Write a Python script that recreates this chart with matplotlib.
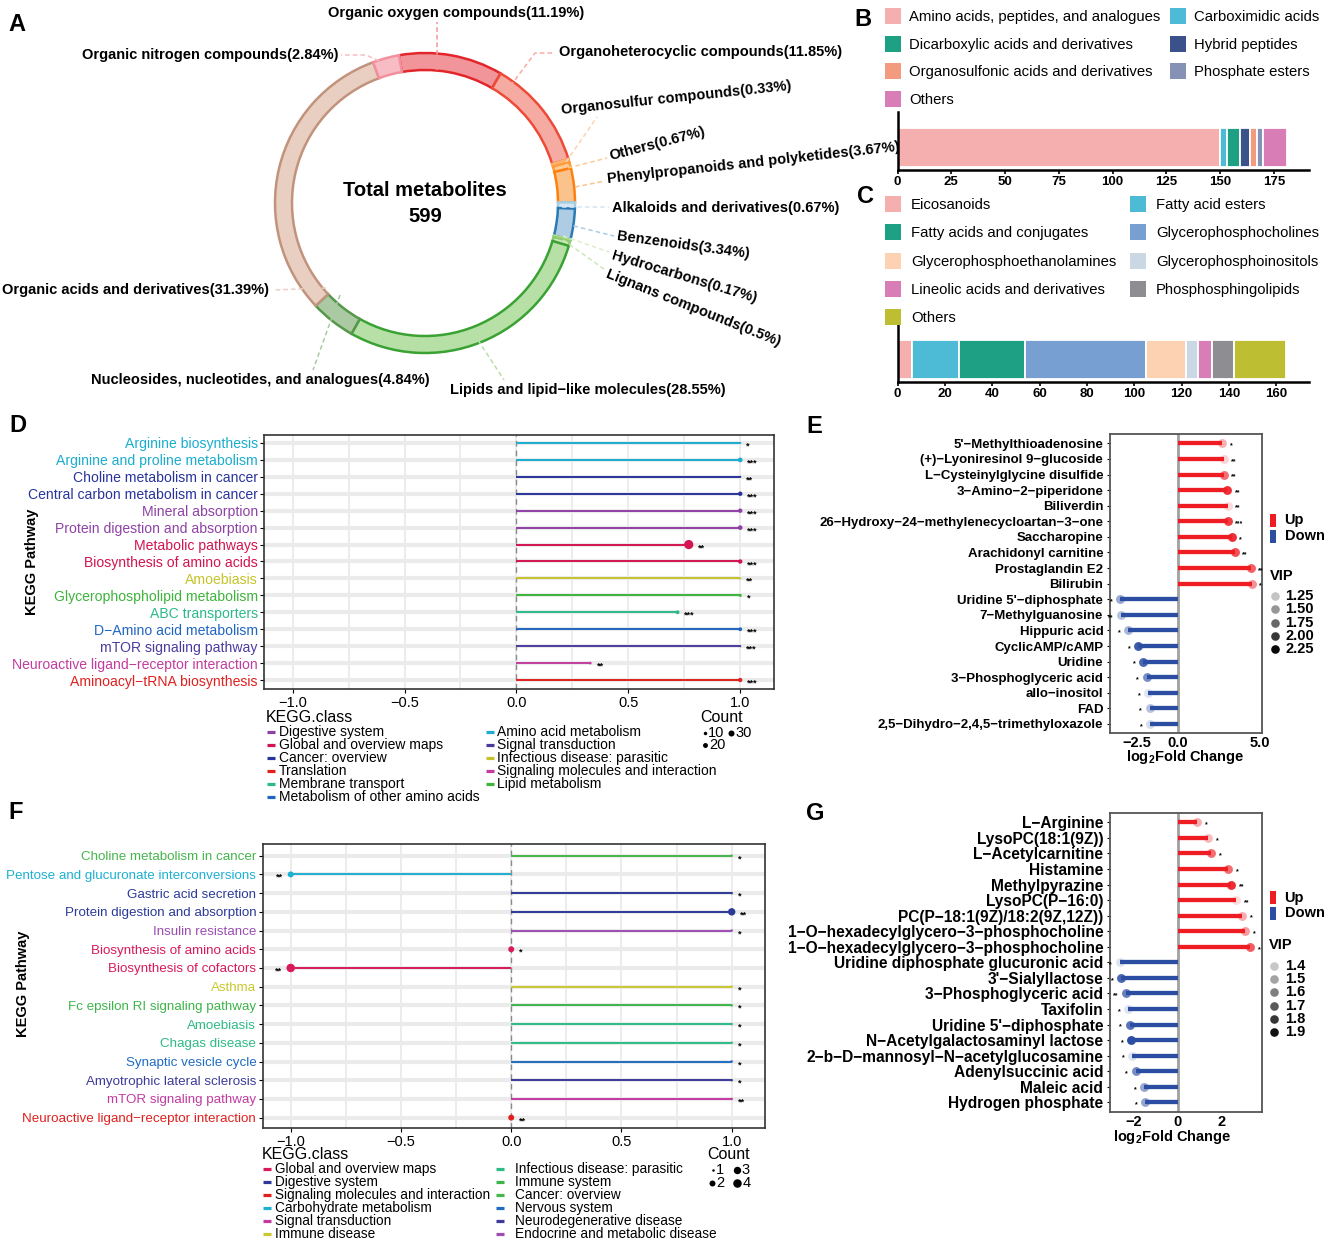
import matplotlib
matplotlib.use('Agg')
import matplotlib.pyplot as plt
from matplotlib.patches import Rectangle
import numpy as np

W, H = 1325, 1243
plt.rcParams['font.family'] = ['Liberation Sans', 'DejaVu Sans']
plt.rcParams['mathtext.fontset'] = 'custom'
plt.rcParams['mathtext.rm'] = 'Liberation Sans:bold'
plt.rcParams['mathtext.bf'] = 'Liberation Sans:bold'
plt.rcParams['axes.unicode_minus'] = True

# ---------------- data ----------------
# Panel A: superclass composition of 599 metabolites (clockwise from top)
A_names = ["Organic oxygen compounds", "Organoheterocyclic compounds", "Organosulfur compounds",
           "Others", "Phenylpropanoids and polyketides", "Alkaloids and derivatives",
           "Benzenoids", "Hydrocarbons", "Lignans compounds", "Lipids and lipid\u2212like molecules",
           "Nucleosides, nucleotides, and analogues", "Organic acids and derivatives",
           "Organic nitrogen compounds"]
A_pct = [11.19, 11.85, 0.33, 0.67, 3.67, 0.67, 3.34, 0.17, 0.5, 28.55, 4.84, 31.39, 2.84]
A_pct_txt = ["11.19", "11.85", "0.33", "0.67", "3.67", "0.67", "3.34", "0.17", "0.5", "28.55",
             "4.84", "31.39", "2.84"]
A_fill = ["#F2959A", "#F6ABA2", "#FCD3AE", "#FDCB93", "#FBC38C", "#D4E6F2", "#AECCE4",
          "#DCEFCC", "#CBE8B8", "#B6E0A6", "#ABC9A2", "#E8CFC2", "#F8BCC4"]
A_edge = ["#E3262B", "#EE4A38", "#FDAE6B", "#FF9C3A", "#FF7F0E", "#A6CEE3", "#2A7AB5",
          "#B2DF8A", "#8FCB74", "#3AA233", "#55984A", "#C2937C", "#F2909C"]
A_total = 599

# Panel B: Organic acids and derivatives subclasses
B_cats = ["Amino acids, peptides, and analogues", "Carboximidic acids",
          "Dicarboxylic acids and derivatives", "Hybrid peptides",
          "Organosulfonic acids and derivatives", "Phosphate esters", "Others"]
B_vals = [150, 3, 6, 5, 3, 3, 11]
B_cols = ["#F5AFAE", "#4DBBD6", "#1DA084", "#3B5189", "#F39B7F", "#8591B5", "#D97DB6"]
B_ticks = [0, 25, 50, 75, 100, 125, 150, 175]

# Panel C: Lipids and lipid-like molecules subclasses
C_cats = ["Eicosanoids", "Fatty acid esters", "Fatty acids and conjugates",
          "Glycerophosphocholines", "Glycerophosphoethanolamines", "Glycerophosphoinositols",
          "Lineolic acids and derivatives", "Phosphosphingolipids", "Others"]
C_vals = [6, 20, 28, 51, 17, 5, 6, 9, 22]
C_cols = ["#F5AFAE", "#4DBBD6", "#1DA084", "#789FD1", "#FDD2B3", "#C9D8E4", "#D97DB6",
          "#8E8E92", "#BEBE33"]
C_ticks = [0, 20, 40, 60, 80, 100, 120, 140, 160]

# Panel D: KEGG enrichment (lollipop)
D_paths = ["Arginine biosynthesis", "Arginine and proline metabolism", "Choline metabolism in cancer",
           "Central carbon metabolism in cancer", "Mineral absorption",
           "Protein digestion and absorption", "Metabolic pathways", "Biosynthesis of amino acids",
           "Amoebiasis", "Glycerophospholipid metabolism", "ABC transporters",
           "D\u2212Amino acid metabolism", "mTOR signaling pathway",
           "Neuroactive ligand\u2212receptor interaction", "Aminoacyl\u2212tRNA biosynthesis"]
D_class = ["Amino acid metabolism", "Amino acid metabolism", "Cancer: overview", "Cancer: overview",
           "Digestive system", "Digestive system", "Global and overview maps",
           "Global and overview maps", "Infectious disease: parasitic", "Lipid metabolism",
           "Membrane transport", "Metabolism of other amino acids", "Signal transduction",
           "Signaling molecules and interaction", "Translation"]
D_x = [1.0, 1.0, 1.0, 1.0, 1.0, 1.0, 0.77, 1.0, 1.0, 1.0, 0.72, 1.0, 1.0, 0.33, 1.0]
D_count = [4, 18, 4, 16, 16, 18, 70, 16, 4, 8, 12, 12, 4, 6, 15]
D_sig = ["*", "***", "**", "***", "***", "***", "**", "***", "**", "*", "***", "***", "***", "**", "***"]
D_legend = ["Digestive system", "Global and overview maps", "Cancer: overview", "Translation",
            "Membrane transport", "Metabolism of other amino acids", "Amino acid metabolism",
            "Signal transduction", "Infectious disease: parasitic",
            "Signaling molecules and interaction", "Lipid metabolism"]
D_colors = {"Digestive system": "#8F42A6", "Global and overview maps": "#D3144F",
            "Cancer: overview": "#28349B", "Translation": "#E0211F",
            "Membrane transport": "#2CB98A", "Metabolism of other amino acids": "#2066C1",
            "Amino acid metabolism": "#1AADCF", "Signal transduction": "#4A3C9F",
            "Infectious disease: parasitic": "#C6C32A",
            "Signaling molecules and interaction": "#C23D9F", "Lipid metabolism": "#3DB43A"}
D_count_breaks = [10, 20, 30]

# Panel E: differential metabolites (lollipop)
E_names = ["5'\u2212Methylthioadenosine", "(+)\u2212Lyoniresinol 9\u2212glucoside",
           "L\u2212Cysteinylglycine disulfide", "3\u2212Amino\u22122\u2212piperidone", "Biliverdin",
           "26\u2212Hydroxy\u221224\u2212methylenecycloartan\u22123\u2212one", "Saccharopine",
           "Arachidonyl carnitine", "Prostaglandin E2", "Bilirubin", "Uridine 5'\u2212diphosphate",
           "7\u2212Methylguanosine", "Hippuric acid", "CyclicAMP/cAMP", "Uridine",
           "3\u2212Phosphoglyceric acid", "allo\u2212inositol", "FAD",
           "2,5\u2212Dihydro\u22122,4,5\u2212trimethyloxazole"]
E_lfc = [2.71, 2.80, 2.80, 3.00, 3.05, 3.05, 3.30, 3.47, 4.45, 4.52,
         -3.53, -3.51, -3.04, -2.44, -2.15, -1.93, -1.83, -1.74, -1.70]
E_vip = [1.4, 1.2, 1.8, 2.2, 1.15, 2.1, 2.2, 2.0, 1.9, 1.6,
         1.6, 1.4, 1.5, 2.2, 2.1, 1.8, 1.15, 1.4, 1.2]
E_sig = ["*", "**", "**", "**", "**", "***", "*", "**", "**", "*",
         "*", "**", "*", "*", "*", "*", "*", "*", "*"]
E_ticks = [-2.5, 0.0, 5.0]
E_vip_breaks = [1.25, 1.50, 1.75, 2.00, 2.25]

# Panel F: KEGG enrichment (lollipop)
F_paths = ["Choline metabolism in cancer", "Pentose and glucuronate interconversions",
           "Gastric acid secretion", "Protein digestion and absorption", "Insulin resistance",
           "Biosynthesis of amino acids", "Biosynthesis of cofactors", "Asthma",
           "Fc epsilon RI signaling pathway", "Amoebiasis", "Chagas disease",
           "Synaptic vesicle cycle", "Amyotrophic lateral sclerosis", "mTOR signaling pathway",
           "Neuroactive ligand\u2212receptor interaction"]
F_class = ["Cancer: overview", "Carbohydrate metabolism", "Digestive system", "Digestive system",
           "Endocrine and metabolic disease", "Global and overview maps",
           "Global and overview maps", "Immune disease", "Immune system",
           "Infectious disease: parasitic", "Infectious disease: parasitic", "Nervous system",
           "Neurodegenerative disease", "Signal transduction", "Signaling molecules and interaction"]
F_x = [1.0, -1.0, 1.0, 1.0, 1.0, 0.0, -1.0, 1.0, 1.0, 1.0, 1.0, 1.0, 1.0, 1.0, 0.0]
F_count = [1, 2, 1, 3, 1, 2, 4, 1, 1, 1, 1, 1, 1, 1, 2]
F_sig = ["*", "**", "*", "**", "*", "*", "**", "*", "*", "*", "*", "*", "*", "**", "**"]
F_legend = ["Global and overview maps", "Digestive system", "Signaling molecules and interaction",
            "Carbohydrate metabolism", "Signal transduction", "Immune disease",
            "Infectious disease: parasitic", "Immune system", "Cancer: overview",
            "Nervous system", "Neurodegenerative disease", "Endocrine and metabolic disease"]
F_colors = {"Global and overview maps": "#D81A5A", "Digestive system": "#2B3A98",
            "Signaling molecules and interaction": "#E0201F", "Carbohydrate metabolism": "#1CB0D2",
            "Signal transduction": "#C23BA1", "Immune disease": "#C9C82F",
            "Infectious disease: parasitic": "#2DBB86", "Immune system": "#3DB54A",
            "Cancer: overview": "#45B54C", "Nervous system": "#1F6CC0",
            "Neurodegenerative disease": "#3D3A99", "Endocrine and metabolic disease": "#9B4DB1"}
F_count_breaks = [1, 2, 3, 4]

# Panel G: differential metabolites (lollipop)
G_names = ["L\u2212Arginine", "LysoPC(18:1(9Z))", "L\u2212Acetylcarnitine", "Histamine",
           "Methylpyrazine", "LysoPC(P\u221216:0)", "PC(P\u221218:1(9Z)/18:2(9Z,12Z))",
           "1\u2212O\u2212hexadecylglycero\u22123\u2212phosphocholine",
           "1\u2212O\u2212hexadecylglycero\u22123\u2212phosphocholine",
           "Uridine diphosphate glucuronic acid", "3'\u2212Sialyllactose",
           "3\u2212Phosphoglyceric acid", "Taxifolin", "Uridine 5'\u2212diphosphate",
           "N\u2212Acetylgalactosaminyl lactose", "2\u2212b\u2212D\u2212mannosyl\u2212N\u2212acetylglucosamine",
           "Adenylsuccinic acid", "Maleic acid", "Hydrogen phosphate"]
G_lfc = [0.86, 1.37, 1.50, 2.30, 2.41, 2.64, 2.92, 3.06, 3.28,
         -2.66, -2.60, -2.37, -2.26, -2.20, -2.14, -2.09, -1.92, -1.53, -1.48]
G_vip = [1.5, 1.45, 1.7, 1.7, 1.9, 1.35, 1.5, 1.55, 1.75,
         1.35, 1.85, 1.75, 1.35, 1.8, 1.95, 1.35, 1.7, 1.6, 1.6]
G_sig = ["*", "*", "*", "*", "**", "**", "*", "*", "*",
         "*", "*", "**", "*", "*", "*", "*", "*", "*", "*"]
G_ticks = [-2, 0, 2]
G_vip_breaks = [1.4, 1.5, 1.6, 1.7, 1.8, 1.9]

UP_COL, DOWN_COL = "#EE1D24", "#2C4EA2"

# ---------------- figure ----------------
fig = plt.figure(figsize=(W / 100, H / 100), dpi=100)


def add_ax(l, t, r, b, **kw):
    return fig.add_axes([l / W, 1 - b / H, (r - l) / W, (b - t) / H], **kw)


ov = fig.add_axes([0, 0, 1, 1], zorder=20)
ov.set_xlim(0, W)
ov.set_ylim(H, 0)
ov.axis('off')
ov.patch.set_alpha(0)

# panel letters
for lab, (x, y) in zip("ABCDEFG", [(17, 24), (863, 19), (865, 196), (18, 425), (814, 426),
                                   (16, 812), (815, 813)]):
    ov.text(x, y, lab, fontsize=17, fontweight='bold', ha='center', va='center')

# ---------------- Panel A ----------------
axA = add_ax(0, 0, 870, 410)
wedges, _ = axA.pie(A_pct, colors=A_fill, startangle=-100, counterclock=True, radius=150,
                    center=(425, 203), wedgeprops=dict(width=17, linewidth=1.8))
for w, e in zip(wedges, A_edge):
    w.set_edgecolor(e)
axA.set_xlim(0, 870)
axA.set_ylim(410, 0)
axA.set_aspect('auto')
axA.axis('off')
axA.text(425, 190, "Total metabolites", fontsize=14.5, fontweight='bold', ha='center', va='center')
axA.text(425, 216, str(A_total), fontsize=14.5, fontweight='bold', ha='center', va='center')

# label layout: (x, y, ha, rotation), leader path
A_layout = [
    ((456, 13, 'center', 0), [(437, 70), (437, 22)]),
    ((559, 52, 'left', 0), [(506, 92), (535, 53), (555, 53)]),
    ((561, 110, 'left', 6), [(566, 162), (597, 117)]),
    ((610, 156, 'left', 14.6), [(568, 168), (607, 158)]),
    ((607, 179, 'left', 6.3), [(560, 190), (605, 181)]),
    ((612, 208, 'left', 0), [(562, 207), (609, 207)]),
    ((617, 236, 'left', -7.8), [(566, 224), (614, 236)]),
    ((612, 255, 'left', -16.8), [(563, 236), (609, 252)]),
    ((607, 273, 'left', -21.7), [(563, 240), (604, 269)]),
    ((588, 390, 'center', 0), [(478, 340), (504, 380)]),
    ((260, 380, 'center', 0), [(340, 295), (313, 370)]),
    ((269, 290, 'right', 0), [(326, 288), (273, 290)]),
    ((338, 55, 'right', 0), [(393, 67), (366, 55), (341, 55)]),
]
for name, pct, fc, (tl, path) in zip(A_names, A_pct_txt, A_fill, A_layout):
    x, y, ha, rot = tl
    axA.text(x, y, f"{name}({pct}%)", fontsize=10.5, fontweight='bold', ha=ha, va='center',
             rotation=rot, rotation_mode='anchor')
    px, py = zip(*path)
    axA.plot(px, py, color=fc, lw=1.1, ls=(0, (3, 2)))

# ---------------- Panel B / C ----------------


def stacked_bar(l, t, r, b, vals, cols, ticks, xmax, bar_center_frac, bar_h_frac):
    ax = add_ax(l, t, r, b)
    left = np.concatenate([[0], np.cumsum(vals)[:-1]])
    ax.barh(0, vals, left=left, height=bar_h_frac, color=cols, edgecolor='white', linewidth=1.3)
    ax.set_ylim(-bar_center_frac, 1 - bar_center_frac)
    ax.set_xlim(0, xmax)
    ax.set_xticks(ticks)
    ax.set_yticks([])
    for s in ['top', 'right']:
        ax.spines[s].set_visible(False)
    for s in ['left', 'bottom']:
        ax.spines[s].set_linewidth(1.8)
        ax.spines[s].set_color('black')
    ax.tick_params(axis='x', length=3, width=1.2, pad=1.5, labelsize=9.5)
    for tl in ax.get_xticklabels():
        tl.set_fontweight('bold')
    ax.patch.set_alpha(0)
    return ax


axB = stacked_bar(897.6, 112, 1309, 170, B_vals, B_cols, B_ticks, 191.3, 0.388, 0.672)
axC = stacked_bar(897.6, 325, 1309, 382, C_vals, C_cols, C_ticks, 173.8, 0.395, 0.684)


def square_legend(cats, cols, col_x, text_dx, y0, dy, nrows):
    for i, (c, col) in enumerate(zip(cats, cols)):
        ci, ri = divmod(i, nrows)
        x = col_x[ci]
        y = y0 + ri * dy
        ov.add_patch(Rectangle((x, y - 8), 16, 16, facecolor=col, edgecolor='none'))
        ov.text(x + text_dx, y + 1, c, fontsize=10.7, ha='left', va='center')


# B legend: rows fill left-to-right (2 columns)
B_order = [0, 2, 4, 6, 1, 3, 5]
square_legend([B_cats[i] for i in B_order], [B_cols[i] for i in B_order], [885, 1170], 24,
              16, 27.5, 4)
C_order = [0, 2, 4, 6, 8, 1, 3, 5, 7]
square_legend([C_cats[i] for i in C_order], [C_cols[i] for i in C_order], [885, 1130], 26,
              204, 28.3, 5)

# ---------------- Panel D / F ----------------


def kegg_panel(box, ylim, paths, classes, xs, counts, sigs, colors, size_fn, title_xy, lab_fs):
    l, t, r, b = box
    ax = add_ax(l, t, r, b)
    n = len(paths)
    ys = np.arange(n, 0, -1)
    ax.set_xlim(-1.128, 1.151)
    ax.set_ylim(*ylim)
    for gx in np.arange(-1.0, 1.01, 0.25):
        ax.axvline(gx, color='#EBEBEB', lw=1.3, zorder=0)
    for y in ys:
        ax.axhline(y, color='#EBEBEB', lw=3.0, zorder=0)
    ax.axvline(0, color='#8A8A8A', lw=1.0, ls=(0, (4, 3)), zorder=1)
    cols = [colors[c] for c in classes]
    ax.hlines(ys, 0, xs, colors=cols, lw=1.4, zorder=2)
    ax.scatter(xs, ys, s=[(size_fn(c) * 0.72) ** 2 for c in counts], c=cols, zorder=3,
               linewidths=0)
    for x, y, s, c in zip(xs, ys, sigs, counts):
        off = size_fn(c) * 0.36 + 3.5
        if x >= 0:
            ax.annotate(s, (x, y), xytext=(off, -2.2), textcoords='offset points', ha='left',
                        va='center', fontsize=6.5, fontweight='bold')
        else:
            ax.annotate(s, (x, y), xytext=(-off, -2.2), textcoords='offset points', ha='right',
                        va='center', fontsize=6.5, fontweight='bold')
    ax.set_yticks(ys)
    ax.set_yticklabels(paths, fontsize=lab_fs)
    for tl, c in zip(ax.get_yticklabels(), cols):
        tl.set_color(c)
    ax.set_xticks([-1.0, -0.5, 0.0, 0.5, 1.0])
    ax.set_xticklabels(["\u22121.0", "\u22120.5", "0.0", "0.5", "1.0"])
    ax.tick_params(axis='x', labelsize=10.5, length=3, pad=2)
    ax.tick_params(axis='y', length=3, pad=1.5)
    for s in ax.spines.values():
        s.set_color('#333333')
        s.set_linewidth(1.2)
    ov.text(title_xy[0], title_xy[1], "KEGG Pathway", rotation=90, fontsize=10.5,
            fontweight='bold', ha='center', va='center')
    return ax


def d_size(c):
    return 1.1 * np.sqrt(c)


def f_size(c):
    return 2.5 + 6.0 * np.sqrt((c - 1) / 3.0)


axD = kegg_panel((264, 435, 774, 689), (0.47, 15.47), D_paths, D_class, D_x, D_count, D_sig,
                 D_colors, d_size, (32, 562), 10.1)
axF = kegg_panel((262.5, 844.3, 765, 1128.3), (0.43, 15.61), F_paths, F_class, F_x, F_count,
                 F_sig, F_colors, f_size, (23, 984), 9.6)


def line_legend(classes, colors, title_xy, col_key_x, col_text_x, y0, dy, nrows, fs):
    ov.text(title_xy[0], title_xy[1], "KEGG.class", fontsize=11.5, ha='left', va='center')
    for i, c in enumerate(classes):
        ci, ri = divmod(i, nrows)
        y = y0 + ri * dy
        kx = col_key_x[ci]
        ov.plot([kx, kx + 8], [y, y], color=colors[c], lw=2.3, solid_capstyle='butt')
        ov.text(col_text_x[ci], y, c, fontsize=fs, ha='left', va='center')


line_legend(D_legend, D_colors, (266, 717), [267, 486], [279, 497], 732.3, 12.9, 6, 10)
line_legend(F_legend, F_colors, (262, 1154.5), [263, 496], [275, 515], 1169, 12.9, 6, 9.8)


def count_legend(title_xy, breaks, size_fn, positions):
    ov.text(title_xy[0], title_xy[1], "Count", fontsize=11.5, ha='left', va='center')
    for bval, (x, y) in zip(breaks, positions):
        d = size_fn(bval)
        ov.plot([x], [y], 'o', color='black', ms=d * 0.72, mew=0)
        ov.text(x + d / 2 + 1.5, y, str(bval), fontsize=10.5, ha='left', va='center')


count_legend((700, 717), D_count_breaks, d_size, [(705, 732.5), (705, 745), (731, 732.5)])
count_legend((707, 1154.5), F_count_breaks, f_size,
             [(713, 1170), (712, 1183), (736.5, 1170), (736.5, 1183)])

# ---------------- Panel E / G ----------------


def diff_panel(box, xlim, ylim, names, lfc, vip, sigs, ticks, ticklabels, vrange, fs,
               xlabel_xy):
    l, t, r, b = box
    ax = add_ax(l, t, r, b)
    n = len(names)
    ys = np.arange(n, 0, -1)
    ax.set_xlim(*xlim)
    ax.set_ylim(*ylim)
    ax.axvline(0, color='#A0A0A0', lw=2.0, zorder=1)
    cols = [UP_COL if v > 0 else DOWN_COL for v in lfc]
    ax.hlines(ys, 0, lfc, colors=cols, lw=3.1, zorder=2)
    vmin, vmax = vrange
    alphas = [float(np.clip(0.12 + 0.88 * (v - vmin) / (vmax - vmin), 0.1, 1.0)) for v in vip]
    for x, y, c, a in zip(lfc, ys, cols, alphas):
        ax.plot([x], [y], 'o', color=c, alpha=a, ms=6.4, mew=0, zorder=3)
    for x, y, s in zip(lfc, ys, sigs):
        if x >= 0:
            ax.annotate(s, (x, y), xytext=(5.5, -1.8), textcoords='offset points', ha='left',
                        va='center', fontsize=5, fontweight='bold')
        else:
            ax.annotate(s, (x, y), xytext=(-5.5, -1.8), textcoords='offset points',
                        ha='right', va='center', fontsize=5, fontweight='bold')
    ax.set_yticks(ys)
    ax.set_yticklabels(names, fontsize=fs, fontweight='bold')
    ax.set_xticks(ticks)
    ax.set_xticklabels(ticklabels, fontsize=10.5, fontweight='bold')
    ax.tick_params(axis='x', length=0, pad=2)
    ax.tick_params(axis='y', length=2.5, pad=2)
    for s in ax.spines.values():
        s.set_color('#555555')
        s.set_linewidth(1.3)
    ov.text(xlabel_xy[0], xlabel_xy[1], r"log$_\mathbf{2}$Fold Change", fontsize=10.5,
            fontweight='bold', ha='center', va='center')
    return ax, (vmin, vmax)


def fmt_ticks(ticks, dec):
    return [("\u2212" if t < 0 else "") + f"{abs(t):.{dec}f}" for t in ticks]


axE, E_vr = diff_panel((1109.5, 434, 1262, 733.3), (-4.2, 5.15), (0.4, 19.6), E_names, E_lfc,
                       E_vip, E_sig, E_ticks, fmt_ticks(E_ticks, 1), (1.1, 2.3), 9.5,
                       (1185, 757))
axG, G_vr = diff_panel((1109.5, 812.7, 1261.6, 1112), (-3.12, 3.81), (0.38, 19.62), G_names,
                       G_lfc, G_vip, G_sig, G_ticks, fmt_ticks(G_ticks, 0), (1.33, 1.95), 11.2,
                       (1172, 1137))


def updown_legend(x, y_up, y_down):
    for yy, col, lab in [(y_up, UP_COL, "Up"), (y_down, DOWN_COL, "Down")]:
        ov.add_patch(Rectangle((x, yy - 6.5), 6.5, 13, facecolor=col, edgecolor='none'))
        ov.text(x + 15, yy, lab, fontsize=10.5, fontweight='bold', ha='left', va='center')


def vip_legend(title_xy, breaks, vrange, cx, tx, y0, dy):
    ov.text(title_xy[0], title_xy[1], "VIP", fontsize=10.5, fontweight='bold', ha='left',
            va='center')
    vmin, vmax = vrange
    for i, bval in enumerate(breaks):
        a = float(np.clip(0.12 + 0.88 * (bval - vmin) / (vmax - vmin), 0.1, 1.0))
        y = y0 + i * dy
        ov.plot([cx], [y], 'o', color='black', alpha=a, ms=6.2, mew=0)
        ov.text(tx, y, f"{bval:g}" if len(breaks) == 6 else f"{bval:.2f}", fontsize=10.5,
                fontweight='bold', ha='left', va='center')


updown_legend(1269.5, 520, 536)
vip_legend((1270, 576), E_vip_breaks, E_vr, 1275, 1285, 596, 13.3)
updown_legend(1269.5, 897.5, 913)
vip_legend((1269, 945), G_vip_breaks, G_vr, 1274, 1285, 966, 13.2)

fig.savefig("out.png", dpi=100)
